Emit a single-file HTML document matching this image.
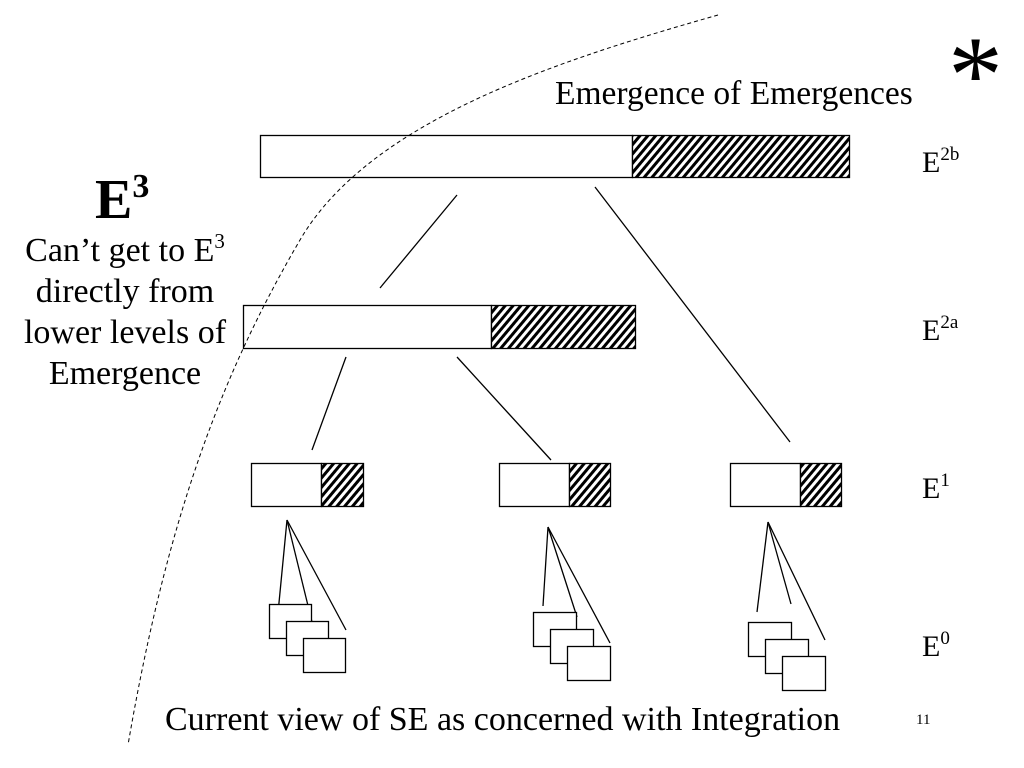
<!DOCTYPE html>
<html><head><meta charset="utf-8"><style>
html,body{margin:0;padding:0;background:#fff;}
svg{display:block;}
text{font-family:"Liberation Serif",serif;fill:#000;}
</style></head><body>
<svg width="1024" height="768" viewBox="0 0 1024 768" xmlns="http://www.w3.org/2000/svg">
<defs>
<pattern id="h" width="6" height="6" patternUnits="userSpaceOnUse" patternTransform="rotate(40)">
<rect width="6" height="6" fill="#fff"/>
<rect x="0" y="0" width="3" height="6" fill="#000"/>
</pattern>
</defs>
<g stroke="#000" stroke-width="1.3" fill="none">
<rect x="260.5" y="135.5" width="372" height="42" fill="#fff"/>
<rect x="632.5" y="135.5" width="217" height="42" fill="url(#h)"/>
<rect x="243.5" y="305.5" width="248" height="43" fill="#fff"/>
<rect x="491.5" y="305.5" width="144" height="43" fill="url(#h)"/>
<line x1="457" y1="195" x2="380" y2="288"/>
<line x1="595" y1="187" x2="790" y2="442"/>
<line x1="346" y1="357" x2="312" y2="450"/>
<line x1="457" y1="357" x2="551" y2="460"/>
<rect x="251.5" y="463.5" width="70" height="43" fill="#fff"/>
<rect x="321.5" y="463.5" width="42" height="43" fill="url(#h)"/>
<rect x="499.5" y="463.5" width="70" height="43" fill="#fff"/>
<rect x="569.5" y="463.5" width="41" height="43" fill="url(#h)"/>
<rect x="730.5" y="463.5" width="70" height="43" fill="#fff"/>
<rect x="800.5" y="463.5" width="41" height="43" fill="url(#h)"/>
<line x1="287" y1="520" x2="278" y2="613"/>
<line x1="287" y1="520" x2="312" y2="622"/>
<line x1="287" y1="520" x2="346" y2="630"/>
<rect x="269.5" y="604.5" width="42" height="34" fill="#fff"/>
<rect x="286.5" y="621.5" width="42" height="34" fill="#fff"/>
<rect x="303.5" y="638.5" width="42" height="34" fill="#fff"/>
<line x1="548" y1="527" x2="543" y2="606"/>
<line x1="548" y1="527" x2="577" y2="617"/>
<line x1="548" y1="527" x2="610" y2="643"/>
<rect x="533.5" y="612.5" width="43" height="34" fill="#fff"/>
<rect x="550.5" y="629.5" width="43" height="34" fill="#fff"/>
<rect x="567.5" y="646.5" width="43" height="34" fill="#fff"/>
<line x1="768" y1="522" x2="757" y2="612"/>
<line x1="768" y1="522" x2="791" y2="604"/>
<line x1="768" y1="522" x2="825" y2="640"/>
<rect x="748.5" y="622.5" width="43" height="34" fill="#fff"/>
<rect x="765.5" y="639.5" width="43" height="34" fill="#fff"/>
<rect x="782.5" y="656.5" width="43" height="34" fill="#fff"/>
<path d="M718,15 C560,60 370,120 300,240 C230,360 170,500 128,745" stroke-dasharray="4,3" stroke-width="1"/>
</g>
<text x="555" y="104" font-size="33.5">Emergence of Emergences</text>
<text x="948" y="112" font-size="110">*</text>
<text x="922" y="172" font-size="30">E<tspan font-size="19" dy="-12">2b</tspan></text>
<text x="922" y="340" font-size="30">E<tspan font-size="19" dy="-12">2a</tspan></text>
<text x="922" y="498" font-size="30">E<tspan font-size="19" dy="-12">1</tspan></text>
<text x="922" y="656" font-size="30">E<tspan font-size="19" dy="-12">0</tspan></text>
<text x="95" y="218" font-size="56" font-weight="bold">E<tspan font-size="34" dy="-21">3</tspan></text>
<text x="125" y="261" font-size="34" text-anchor="middle">Can’t get to E<tspan font-size="21" dy="-13">3</tspan></text>
<text x="125" y="302" font-size="34" text-anchor="middle">directly from</text>
<text x="125" y="343" font-size="34" text-anchor="middle">lower levels of</text>
<text x="125" y="384" font-size="34" text-anchor="middle">Emergence</text>
<text x="165" y="730" font-size="34">Current view of SE as concerned with Integration</text>
<text x="916" y="724" font-size="15">11</text>
</svg>
</body></html>
